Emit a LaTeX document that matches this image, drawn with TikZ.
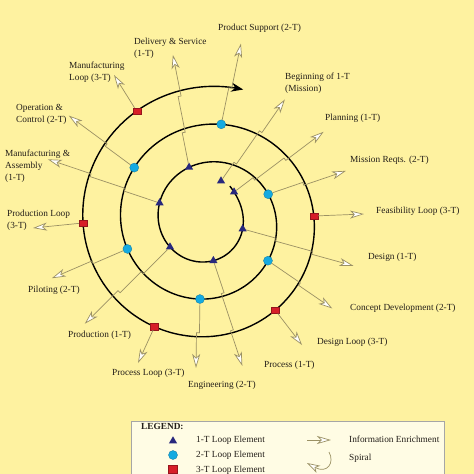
\documentclass[tikz,border=0pt]{standalone}
\usepackage{fontspec}
\setmainfont{Liberation Serif}
\usetikzlibrary{arrows.meta,calc,shapes.geometric}
\definecolor{bgc}{RGB}{254,242,160}
\definecolor{legbg}{RGB}{255,252,228}
\definecolor{infoc}{RGB}{155,145,100}
\definecolor{tric}{RGB}{40,40,125}
\definecolor{circc}{RGB}{20,170,225}
\definecolor{sqc}{RGB}{215,30,40}
\definecolor{txtc}{RGB}{35,30,25}
\newcommand\jogA{3pt}
\newcommand\jogB{6pt}
% spiral radius as a function of the angle (degrees, clockwise on the page)
\newcommand\spr[1]{(30.6+0.105*(#1)+13.4*exp(-(min(#1,300)+48)/46))}
\newcommand\infoA[2]{\draw[info] (#1) -- (#2);}
\newcommand\infoB[3]{\draw[info] (#1) -- ($(#1)!#3!(#2)$) -- ($(#1)!#3!(#2)!\jogA!-90:(#2)$) -- ($(#2)!\jogA!90:(#1)$);}
\newcommand\infoC[4]{\draw[info] (#1) -- ($(#1)!#3!(#2)$) -- ($(#1)!#3!(#2)!\jogA!-90:(#2)$) -- ($(#1)!#4!(#2)!\jogA!-90:(#2)$) -- ($(#1)!#4!(#2)!\jogB!-90:(#2)$) -- ($(#2)!\jogB!90:(#1)$);}
\begin{document}
\begin{tikzpicture}[x=1pt,y=-1pt,
  tri/.style={regular polygon, regular polygon sides=3, fill=tric, inner sep=0pt, minimum size=9.5pt},
  circ/.style={circle, fill=circc, draw=circc!70!black, line width=0.3pt, inner sep=0pt, minimum size=9pt},
  sqm/.style={rectangle, fill=sqc, draw=sqc!70!black, line width=0.2pt, inner sep=0pt, minimum width=8pt, minimum height=6.5pt},
  lab/.style={text=txtc, font=\fontsize{9.3}{12}\selectfont, inner sep=0pt, align=left},
  info/.style={draw=infoc, line width=0.7pt, -{Stealth[length=14pt, width=8pt, inset=3.8pt, fill=white]}},
  spiral/.style={draw=black, line width=1.4pt}
]
\useasboundingbox (0,0) rectangle (474,474);
\fill[bgc] (0,0) rectangle (474,474);

% spiral
\draw[spiral, -{Stealth[length=12pt, width=9pt]}] plot[domain=-58:1005, samples=260, smooth, variable=\t]
  ({208+\spr{\t}*cos(\t)},{221+\spr{\t}*sin(\t)});

% markers
\node[tri] (t1) at (221,181) {};
\foreach \n/\a in {t2/-48, t3/12.9, t4/82.3, t5/145.6, t6/200.4, t7/250.6}
  \node[tri] (\n) at ({208+\spr{\a}*cos(\a)},{221+\spr{\a}*sin(\a)}) {};
\foreach \n/\a in {c1/336, c2/393.5, c3/455.9, c4/520.9, c5/575.9, c6/637.8}
  \node[circ] (\n) at ({208+\spr{\a}*cos(\a)},{221+\spr{\a}*sin(\a)}) {};
\foreach \n/\a in {r1/717.3, r2/773, r3/836.8, r4/899.1, r5/957}
  \node[sqm] (\n) at ({208+\spr{\a}*cos(\a)},{221+\spr{\a}*sin(\a)}) {};

% arrow tips
\coordinate (pS) at (238,43);
\coordinate (dS) at (167,56);
\coordinate (mL) at (114,75);
\coordinate (oC) at (67,118);
\coordinate (mA) at (46,165);
\coordinate (pL) at (33,228);
\coordinate (pi) at (53,281);
\coordinate (pr) at (89,328);
\coordinate (pLp) at (138,363);
\coordinate (en) at (199,368);
\coordinate (pc) at (248,364);
\coordinate (dL) at (302,345);
\coordinate (cD) at (334,306);
\coordinate (de) at (355,260);
\coordinate (fL) at (364,214);
\coordinate (mR) at (345,168);
\coordinate (pl) at (320,127);
\coordinate (be) at (280,96);

% information enrichment arrows
\infoB{c6}{pS}{0.45}
\infoC{t7}{dS}{0.31}{0.63}
\infoA{r5}{mL}
\infoB{c5}{oC}{0.43}
\infoC{t6}{mA}{0.31}{0.62}
\infoA{r4}{pL}
\infoB{c4}{pi}{0.46}
\infoC{t5}{pr}{0.33}{0.59}
\infoA{r3}{pLp}
\infoB{c3}{en}{0.49}
\infoC{t4}{pc}{0.31}{0.66}
\infoA{r2}{dL}
\infoB{c2}{cD}{0.49}
\infoC{t3}{de}{0.30}{0.63}
\infoA{r1}{fL}
\infoB{c1}{mR}{0.45}
\infoC{t2}{pl}{0.22}{0.56}
\infoC{t1}{be}{0.22}{0.61}

% labels
\node[lab, anchor=base west] (lPS) at (218,30) {Product Support (2-T)};
\node[lab, anchor=north west] (lDS) at (134,37.5) {Delivery \& Service\\(1-T)};
\node[lab, anchor=north west] (lML) at (69,61.5) {Manufacturing\\Loop (3-T)};
\node[lab, anchor=north west] (lOC) at (16,104.5) {Operation \&\\Control (2-T)};
\node[lab, anchor=north west] (lMA) at (5,149.5) {Manufacturing \&\\Assembly\\(1-T)};
\node[lab, anchor=north west] (lPL) at (7,209.5) {Production Loop\\(3-T)};
\node[lab, anchor=base west] (lPi) at (28,292) {Piloting (2-T)};
\node[lab, anchor=base west] (lPr) at (68,337) {Production (1-T)};
\node[lab, anchor=base west] (lPLp) at (112,375) {Process Loop (3-T)};
\node[lab, anchor=base west] (lEn) at (188,387) {Engineering (2-T)};
\node[lab, anchor=base west] (lPc) at (264,367) {Process (1-T)};
\node[lab, anchor=base west] (lDL) at (317,344) {Design Loop (3-T)};
\node[lab, anchor=base west] (lCD) at (350,310) {Concept Development (2-T)};
\node[lab, anchor=base west] (lDe) at (368,259) {Design (1-T)};
\node[lab, anchor=base west] (lFL) at (376,213) {Feasibility Loop (3-T)};
\node[lab, anchor=base west] (lMR) at (350,162) {Mission Reqts. (2-T)};
\node[lab, anchor=base west] (lPl) at (325,120) {Planning (1-T)};
\node[lab, anchor=north west] (lBe) at (285,72.5) {Beginning of 1-T\\(Mission)};

% legend
\draw[fill=legbg, draw=black!35, line width=0.8pt] (131,421) rectangle (444,478);
\node[lab, anchor=base west, font=\fontsize{9.3}{12}\selectfont\bfseries] (lgT) at (141,429) {LEGEND:};
\node[tri] (lgt) at (173,441) {};
\node[circ] (lgc) at (173,455) {};
\node[sqm, minimum width=9pt, minimum height=8pt] (lgs) at (173,469) {};
\node[lab, anchor=base west] (lg1) at (196,442) {1-T Loop Element};
\node[lab, anchor=base west] (lg2) at (196,457) {2-T Loop Element};
\node[lab, anchor=base west] (lg3) at (196,472) {3-T Loop Element};
\coordinate (lga) at (307,440);
\coordinate (lgb) at (331,440);
\infoA{lga}{lgb}
\node[lab, anchor=base west] (lgI) at (349,442) {Information Enrichment};
\coordinate (lgs1) at (329,452);
\coordinate (lgs2) at (307,463);
\draw[draw=infoc, line width=0.7pt, -{Stealth[length=13pt, width=8pt, inset=3.5pt, fill=white]}] (lgs1) .. controls (335,463) and (327,474) .. (lgs2);
\node[lab, anchor=base west] (lgS) at (349,460) {Spiral};
\end{tikzpicture}
\end{document}
